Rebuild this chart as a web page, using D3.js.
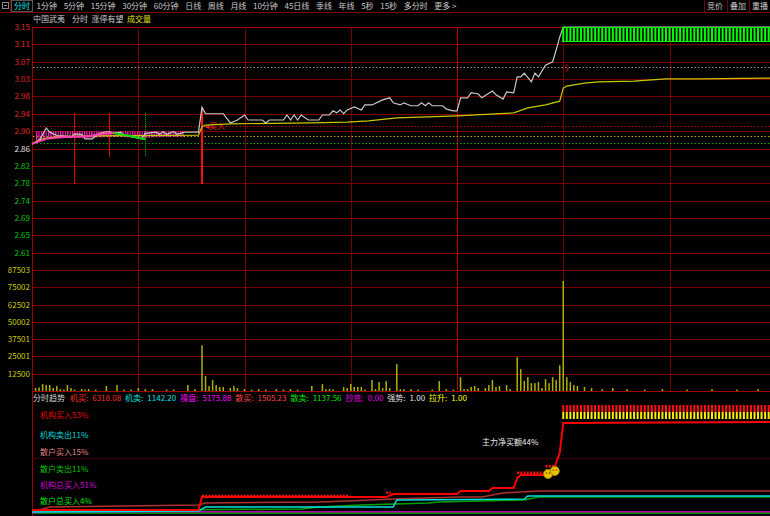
<!DOCTYPE html>
<html><head><meta charset="utf-8">
<script src="https://cdn.jsdelivr.net/npm/d3@7"></script>
<style>
html,body{margin:0;padding:0;background:#000;overflow:hidden;}
svg{display:block;}
text{font-family:"Noto Sans CJK SC","Noto Sans",sans-serif;font-size:8px;}
</style></head><body>
<svg id="c" width="770" height="516"></svg>
<script>
// ---------------- DATA ----------------
const toolbarItems = ["分时","1分钟","5分钟","15分钟","30分钟","60分钟","日线","周线","月线","10分钟","45日线","季线","年线","5秒","15秒","多分时","更多 >"];
const toolbarRight = ["竞价","叠加","重播"];
const headerItems = ["中国武夷","分时","涨停有望","成交量"];
const prevClose = 2.86, limitUp = 3.15, limitDown = 2.57;
const priceTicks = [3.15,3.1086,3.0671,3.0257,2.9843,2.9429,2.9014,2.86,2.8186,2.7771,2.7357,2.6943,2.6529,2.6114];
const volTicks = [87503,75002,62502,50002,37501,25001,12500];
const volMax = 87503;
const timeGrid = [30,60,90,120,150,180,210];
// price line: [minute, price]
const pricePts = [[0,2.871],[2,2.878],[4,2.909],[5,2.899],[7,2.891],[10,2.889],[11,2.886],[12,2.895],[14,2.894],[15,2.883],[17,2.883],[19,2.896],[21,2.900],[22,2.900],[23,2.896],[25,2.899],[26,2.892],[28,2.888],[31,2.883],[32,2.896],[35,2.899],[36,2.894],[37,2.900],[38,2.894],[40,2.900],[41,2.894],[43,2.899],[47,2.899],[48,2.958],[49,2.943],[54,2.943],[56,2.921],[58,2.928],[60,2.940],[61,2.928],[65,2.928],[66,2.921],[67,2.928],[71,2.928],[72,2.940],[73,2.928],[74,2.940],[75,2.928],[76,2.940],[78,2.928],[81,2.928],[82,2.940],[84,2.940],[85,2.950],[86,2.945],[87,2.952],[88,2.943],[89,2.952],[91,2.959],[93,2.952],[94,2.964],[96,2.964],[99,2.976],[101,2.981],[102,2.969],[104,2.964],[105,2.969],[107,2.962],[109,2.962],[110,2.969],[111,2.962],[112,2.969],[113,2.962],[116,2.962],[117,2.954],[119,2.950],[120,2.950],[121,2.981],[123,2.981],[124,2.993],[126,2.990],[127,2.981],[130,2.997],[131,2.988],[133,2.978],[134,2.995],[136,2.993],[137,3.031],[138,3.031],[139,3.040],[141,3.019],[142,3.040],[143,3.031],[145,3.059],[147,3.067],[148,3.095],[149,3.126],[150,3.15],[240,3.15]];
// average price line
const avgPts = [[0,2.871],[2,2.881],[4,2.885],[8,2.889],[19,2.890],[47,2.892],[48,2.912],[49,2.916],[56,2.919],[79,2.921],[89,2.923],[95,2.926],[103,2.933],[120,2.938],[136,2.945],[140,2.957],[145,2.964],[149,2.973],[150,3.004],[151,3.009],[156,3.016],[160,3.019],[170,3.021],[179,3.026],[189,3.026],[208,3.028],[240,3.03]];
// short trend line (pink rising, green falling)
const trendUp = [[0,2.871],[4,2.883],[8,2.887],[16,2.889],[20,2.895],[23,2.897]];
const trendDown = [[23,2.897],[27,2.891],[31,2.884],[32,2.882]];
// hatch band lower edge (morning)
const hatchLow = [[1,2.876],[4,2.884],[10,2.887],[15,2.884],[18,2.886],[25,2.888],[31,2.883],[34,2.887],[43,2.888]];
// horizontal dotted levels
const levelPrices = [3.055,2.913,2.891,2.872];
const levelColors = ["#9a9a9a","#c00000","#b0b000","#00a000"];
// vertical signal lines [minute, top price, bottom price]
const signalRed = [[12,2.945,2.775],[22,2.945,2.84]];
const signalGreen = [[32,2.945,2.84]];
const signalBuy = [[48,2.958,2.775]];
// volume: [minute, volume]
const volPts = [[1,2150],[2,2650],[3,5000],[4,4300],[5,4300],[6,2150],[7,3600],[8,1400],[9,1000],[10,4300],[11,2150],[12,1000],[14,1400],[15,1000],[16,1400],[18,1000],[21,3600],[24,4300],[26,1000],[28,1000],[30,2150],[32,1400],[34,1400],[38,1000],[40,1000],[44,4300],[46,1400],[48,33000],[49,10750],[50,3600],[51,7900],[52,4300],[53,2900],[54,2900],[56,2150],[57,3600],[58,2150],[60,1400],[62,1000],[64,1400],[66,1000],[69,1400],[71,1000],[73,1400],[75,1000],[79,3600],[82,5000],[83,1400],[84,1400],[85,1000],[88,2900],[89,2150],[90,5000],[91,2900],[92,2900],[93,2900],[94,1000],[96,7900],[97,1400],[98,6450],[99,2150],[100,7150],[101,2150],[103,19400],[104,1400],[105,1400],[107,1400],[109,1000],[113,1000],[115,7150],[117,1400],[119,1000],[121,10000],[122,1400],[123,1400],[124,2900],[125,3600],[126,2150],[128,2150],[129,4300],[130,7900],[131,2900],[132,3600],[134,4300],[135,1400],[137,24400],[138,15800],[139,7150],[140,10000],[141,5700],[142,5700],[143,6450],[144,2150],[145,8600],[146,5700],[147,10000],[148,7900],[149,18600],[150,79600],[151,10000],[152,6450],[153,4300],[154,3600],[156,2900],[158,2150],[161,1400],[164,2150],[168,1400],[173,1000],[178,1400],[185,1000],[192,1400],[199,1000],[205,1400]];
// indicator row
const indLabels = ["机买:","机卖:","操盘:","散买:","散卖:","抄底:","强势:","拉升:"];
const indValues = ["6318.08","1142.20","5175.88","1505.23","1137.56","0.00","1.00","1.00"];
const indColors = ["#ff2a2a","#00e0e0","#ff00ff","#ff4040","#00e000","#e000e0","#e0e0e0","#ffff00"];
// bottom pane legend
const legendNames = ["机构买入53%","机构卖出11%","散户买入15%","散户卖出11%","机构总买入51%","散户总买入4%"];
const legendColors = ["#e80000","#00d8d8","#e08080","#00c800","#d000d0","#00e000"];
// bottom pane lines [minute, value]
const instBuy = [[0,2.7],[47,2.7],[48,14.5],[100,14.5],[102,17.3],[120,17.3],[121,20],[129,20],[130,22.7],[136,22.7],[137,31.8],[138,34.5],[144,34.5],[147,37.3],[148,45.5],[149,54.5],[150,81.8],[208,82.7],[240,82.7]];
const retailBuy = [[0,0.9],[5,5.5],[47,7.3],[49,9.1],[81,10],[89,10.9],[102,12.7],[121,14.5],[127,14.5],[133,18.2],[143,20],[240,20]];
const instSell = [[0,0.9],[47,1.8],[49,5.5],[102,5.5],[103,11.8],[139,12.7],[140,15.5],[240,15.5]];
const retailSell = [[0,1.8],[76,3.6],[81,5.5],[93,7.3],[112,9.1],[115,10],[139,11.8],[143,14.5],[240,14.5]];
const instTotal = [[0,0],[4,1.2],[240,1.2]];
const retailTotal = [[0,0],[240,0]];
// red square markers in bottom pane [from minute, to minute, value]
const markRuns = [[48,89,15.5],[100,101,18.4],[137,144,36.5],[145,147,42.5]];
const smileys = [[145.7,35.5],[147.6,38.2]];
const netBuyLabel = "主力净买额44%";

// ---------------- SCALES ----------------
const svg = d3.select("#c");
const W = 770;
const x = d3.scaleLinear([0,240],[32,882]);
const yP = d3.scaleLinear([limitDown, limitUp],[270,27]);
const yV = d3.scaleLinear([0, volMax],[391,270]);
const yB = d3.scaleLinear([0,100],[513,403]);
const GRID = "#7a0000";

svg.append("rect").attr("width",W).attr("height",516).attr("fill","#000");

// ---------------- TOOLBAR ----------------
const tb = svg.append("g");
tb.append("rect").attr("x",2.5).attr("y",2.5).attr("width",6).attr("height",6).attr("fill","none").attr("stroke","#8a8a8a");
tb.append("line").attr("x1",4).attr("x2",7).attr("y1",5.5).attr("y2",5.5).attr("stroke","#8a8a8a");
tb.append("line").attr("x1",10.5).attr("x2",10.5).attr("y1",0).attr("y2",12).attr("stroke",GRID);
let tx = 14;
toolbarItems.forEach((t,i)=>{
  const el = tb.append("text").attr("x",tx).attr("y",9).attr("fill", i===0?"#00e8e8":"#c8c8c8").text(t);
  const w = el.node().getComputedTextLength();
  if(i===0){
    tb.append("rect").attr("x",tx-2.5).attr("y",0.5).attr("width",w+5).attr("height",11).attr("fill","none").attr("stroke","#555");
  }
  tx += w + 6.6;
});
const rxs = [705,728,750];
toolbarRight.forEach((t,i)=>{
  tb.append("line").attr("x1",rxs[i]-0.5).attr("x2",rxs[i]-0.5).attr("y1",0).attr("y2",12).attr("stroke",GRID);
  tb.append("text").attr("x",rxs[i]+2).attr("y",9).attr("fill","#c8c8c8").text(t);
});
svg.append("line").attr("x1",0).attr("x2",W).attr("y1",12.5).attr("y2",12.5).attr("stroke",GRID);

// header
let hx = 33;
headerItems.forEach((t,i)=>{
  const el = svg.append("text").attr("x",hx).attr("y",22).attr("fill", i===3?"#e0e000":"#c8c8c8").attr("font-size",7.7).text(t);
  hx += el.node().getComputedTextLength() + (i===0?7:3.5);
});

// ---------------- GRID ----------------
const grid = svg.append("g");
priceTicks.concat([limitDown]).forEach(p=>{
  grid.append("line").attr("x1",32).attr("x2",W).attr("y1",Math.round(yP(p))+0.5).attr("y2",Math.round(yP(p))+0.5)
    .attr("stroke", p===limitUp ? "#b00000" : GRID);
});
volTicks.concat([0]).forEach(v=>{
  grid.append("line").attr("x1",32).attr("x2",W).attr("y1",Math.round(yV(v))+0.5).attr("y2",Math.round(yV(v))+0.5)
    .attr("stroke", v===0 ? "#a00000" : GRID);
});
timeGrid.forEach(m=>{
  grid.append("line").attr("x1",Math.round(x(m))+0.5).attr("x2",Math.round(x(m))+0.5).attr("y1",yP(limitUp)).attr("y2",yV(0))
    .attr("stroke", m===120 ? "#c00000" : GRID);
});
grid.append("line").attr("x1",32.5).attr("x2",32.5).attr("y1",yP(limitUp)).attr("y2",516).attr("stroke","#a00000");
grid.append("line").attr("x1",32).attr("x2",W).attr("y1",Math.round(yB(50))+0.5).attr("y2",Math.round(yB(50))+0.5).attr("stroke","#3a0000");

// axis labels
const pAxis = svg.append("g").attr("transform","translate(30,0)")
  .call(d3.axisLeft(yP).tickValues(priceTicks).tickFormat(d3.format(".2f")).tickSize(0).tickPadding(0));
pAxis.select(".domain").remove();
pAxis.selectAll("text").attr("font-size",8).attr("font-family","'Noto Sans',sans-serif")
  .attr("fill", d => Math.abs(d-prevClose)<1e-6 ? "#e0e0e0" : (d>prevClose ? "#e02424" : "#00c800"));
const vAxis = svg.append("g").attr("transform","translate(30,0)")
  .call(d3.axisLeft(yV).tickValues(volTicks).tickFormat(d3.format("d")).tickSize(0).tickPadding(0));
vAxis.select(".domain").remove();
vAxis.selectAll("text").attr("font-size",8).attr("font-family","'Noto Sans',sans-serif").attr("fill","#c8c800");

// ---------------- PRICE PANE ----------------
const plot = svg.append("g");
levelPrices.forEach((p,i)=>{
  plot.append("line").attr("x1",33).attr("x2",W).attr("y1",Math.round(yP(p))+0.5).attr("y2",Math.round(yP(p))+0.5)
    .attr("stroke",levelColors[i]).attr("stroke-dasharray","1.5,2");
});
// hatch pattern band below the 2.90 line (morning)
const defs = svg.append("defs");
const pat = defs.append("pattern").attr("id","hatch").attr("patternUnits","userSpaceOnUse").attr("width",2.4).attr("height",10);
pat.append("rect").attr("width",1.2).attr("height",10).attr("fill","#ff20c0");
plot.append("path").datum(hatchLow)
  .attr("d", d3.area().x(d=>x(d[0])).y0(yP(priceTicks[6])).y1(d=>yP(d[1])))
  .attr("fill","url(#hatch)");

// vertical signals
signalRed.forEach(s=>{
  plot.append("line").attr("x1",Math.floor(x(s[0]))+0.5).attr("x2",Math.floor(x(s[0]))+0.5).attr("y1",yP(s[1])).attr("y2",yP(s[2])).attr("stroke","#e00000");
});
signalGreen.forEach(s=>{
  plot.append("line").attr("x1",Math.floor(x(s[0]))+0.5).attr("x2",Math.floor(x(s[0]))+0.5).attr("y1",yP(s[1])).attr("y2",yP(s[2])).attr("stroke","#00c000").attr("stroke-dasharray","1,1");
});
signalBuy.forEach(s=>{
  plot.append("line").attr("x1",x(s[0])).attr("x2",x(s[0])).attr("y1",yP(s[1])).attr("y2",yP(s[2])).attr("stroke","#ff1010").attr("stroke-width",2);
  plot.append("text").attr("x",x(s[0])+3).attr("y",yP(2.913)+3).attr("fill","#ff2020").attr("font-size",7.5).text("◂买入");
});

const line = d3.line().x(d=>x(d[0])).y(d=>yP(d[1]));
plot.append("path").datum(avgPts).attr("d",line).attr("fill","none").attr("stroke","#c8c800").attr("stroke-width",1.2);
plot.append("path").datum(pricePts).attr("d",line).attr("fill","none").attr("stroke","#c8c8c8").attr("stroke-width",1.2);
plot.append("path").datum(trendUp).attr("d",line).attr("fill","none").attr("stroke","#ff40b0").attr("stroke-width",2);
plot.append("path").datum(trendDown).attr("d",line).attr("fill","none").attr("stroke","#00e000").attr("stroke-width",2);

// limit-up band
const limitStart = pricePts.find(d=>d[1]>=limitUp)[0];
const limitMins = d3.range(limitStart, 241);
const band = plot.append("g");
limitMins.forEach(m=>{
  band.append("rect").attr("x",x(m)-1).attr("y",yP(limitUp)).attr("width",2).attr("height",15).attr("fill","#00ff00");
});
band.append("line").attr("x1",x(limitStart)-1).attr("x2",W).attr("y1",yP(limitUp)+0.5).attr("y2",yP(limitUp)+0.5).attr("stroke","#00ff00");
band.append("line").attr("x1",x(limitStart)-1).attr("x2",W).attr("y1",yP(limitUp)+14.5).attr("y2",yP(limitUp)+14.5).attr("stroke","#00ff00");
plot.append("text").attr("x",x(limitStart)+1).attr("y",yP(3.045)).attr("fill","#d01010").attr("font-size",8).text("$");

// ---------------- VOLUME ----------------
svg.append("g").selectAll("rect").data(volPts).join("rect")
  .attr("x",d=>x(d[0])-0.75).attr("width",1.5)
  .attr("y",d=>yV(d[1])).attr("height",d=>yV(0)-yV(d[1]))
  .attr("fill","#b0b000");

// ---------------- INDICATOR ROW ----------------
let ix = 33;
const t0 = svg.append("text").attr("x",ix).attr("y",401).attr("fill","#d0d0d0").text("分时趋势");
ix += t0.node().getComputedTextLength() + 5;
indLabels.forEach((l,i)=>{
  const a = svg.append("text").attr("x",ix).attr("y",401).attr("fill",indColors[i]).text(l);
  ix += a.node().getComputedTextLength() + 4;
  const b = svg.append("text").attr("x",ix).attr("y",401).attr("fill",indColors[i]).attr("font-family","'Noto Sans',sans-serif").text(indValues[i]);
  ix += b.node().getComputedTextLength() + 4;
});

// ---------------- BOTTOM PANE ----------------
const bl = d3.line().x(d=>x(d[0])).y(d=>yB(d[1]));
const bot = svg.append("g");
limitMins.forEach(m=>{
  bot.append("rect").attr("x",x(m)-1).attr("y",405).attr("width",2).attr("height",7).attr("fill","#ff1010");
  bot.append("rect").attr("x",x(m)-1).attr("y",412).attr("width",2).attr("height",7).attr("fill","#ffee00");
});
bot.append("path").datum(retailTotal).attr("d",bl).attr("fill","none").attr("stroke","#00b000").attr("stroke-width",1.5);
bot.append("path").datum(instTotal).attr("d",bl).attr("fill","none").attr("stroke","#b000b0").attr("stroke-width",1.5);
bot.append("path").datum(retailSell).attr("d",bl).attr("fill","none").attr("stroke","#00a000").attr("stroke-width",1.5);
bot.append("path").datum(retailBuy).attr("d",bl).attr("fill","none").attr("stroke","#b03030").attr("stroke-width",1.5);
bot.append("path").datum(instSell).attr("d",bl).attr("fill","none").attr("stroke","#00e0e0").attr("stroke-width",1.5);
bot.append("path").datum(instBuy).attr("d",bl).attr("fill","none").attr("stroke","#ff0000").attr("stroke-width",2);
markRuns.forEach(r=>{
  bot.append("line").attr("x1",x(r[0])).attr("x2",x(r[1])+1).attr("y1",yB(r[2])).attr("y2",yB(r[2]))
    .attr("stroke","#ff1010").attr("stroke-width",2.5).attr("stroke-dasharray","2,1.2");
});
smileys.forEach(s=>{
  const g = bot.append("g").attr("transform",`translate(${x(s[0])},${yB(s[1])})`);
  g.append("circle").attr("r",4.6).attr("fill","#e8c000").attr("stroke","#a08000");
  g.append("circle").attr("cx",-1.5).attr("cy",-1).attr("r",0.7).attr("fill","#604000");
  g.append("circle").attr("cx",1.5).attr("cy",-1).attr("r",0.7).attr("fill","#604000");
});
svg.append("text").attr("x",482).attr("y",445).attr("fill","#e8e8e8").text(netBuyLabel);

const legYs = [418,438,455,472,488,504];
legendNames.forEach((n,i)=>{
  svg.append("text").attr("x",40).attr("y",legYs[i]).attr("fill",legendColors[i]).text(n);
});
</script>
</body></html>
